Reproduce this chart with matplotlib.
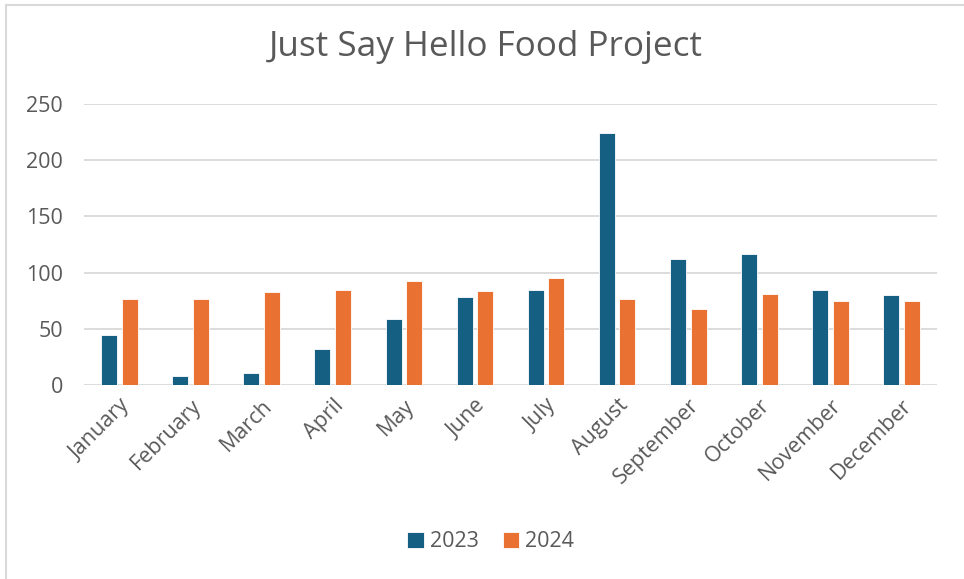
import numpy as np
import matplotlib
matplotlib.use("Agg")
import matplotlib.pyplot as plt
from matplotlib.lines import Line2D

# Data
months = ["January", "February", "March", "April", "May", "June",
          "July", "August", "September", "October", "November", "December"]
values_2023 = [45, 8, 11, 32, 59, 78, 85, 224, 112, 117, 85, 80]
values_2024 = [77, 77, 83, 85, 93, 84, 95, 77, 68, 81, 75, 75]
series_labels = ["2023", "2024"]
y_ticks = [0, 50, 100, 150, 200, 250]

BLUE = "#156082"
ORANGE = "#E97132"
GRID = "#D9D9D9"
TEXT = "#595959"

plt.rcParams["font.family"] = ["Open Sans", "DejaVu Sans"]

fig = plt.figure(figsize=(9.64, 5.79), dpi=100)
ax = fig.add_axes([0.0871, 0.3345, 0.8849, 0.4864])

x = np.arange(len(months))
width = 0.225
offset = 0.145
ax.bar(x - offset, values_2023, width, color=BLUE, edgecolor="white",
       linewidth=0.6, label=series_labels[0], zorder=3)
ax.bar(x + offset, values_2024, width, color=ORANGE, edgecolor="white",
       linewidth=0.6, label=series_labels[1], zorder=3)

ax.set_xlim(-0.5, len(months) - 0.5)
ax.set_ylim(0, 250)
ax.set_yticks(y_ticks)
ax.yaxis.grid(True, color=GRID, linewidth=1.3, zorder=0)
ax.set_axisbelow(True)
for s in ax.spines.values():
    s.set_visible(False)

ax.set_xticks(x)
ax.set_xticklabels(months, rotation=45, ha="right", rotation_mode="anchor",
                   fontsize=15.5, color=TEXT)
ax.tick_params(axis="x", length=0, pad=7)
ax.tick_params(axis="y", length=0, pad=15, labelsize=15.5, labelcolor=TEXT)

fig.text(0.5036, 0.919, "Just Say Hello Food Project", ha="center",
         va="center", fontsize=25.3, color=TEXT)

fig.legend(loc="center", bbox_to_anchor=(0.509, 0.064), ncol=2,
           frameon=False, handlelength=0.75, handleheight=0.75,
           handletextpad=0.3, columnspacing=1.1, fontsize=15.5,
           labelcolor=TEXT)

# chart border (top and left edges visible)
fig.add_artist(Line2D([6 / 964, 1], [1 - 5 / 579, 1 - 5 / 579],
                      transform=fig.transFigure, color=GRID, linewidth=1.5))
fig.add_artist(Line2D([6 / 964, 6 / 964], [0, 1 - 5 / 579],
                      transform=fig.transFigure, color=GRID, linewidth=1.5))

fig.savefig("out.png", dpi=100)
